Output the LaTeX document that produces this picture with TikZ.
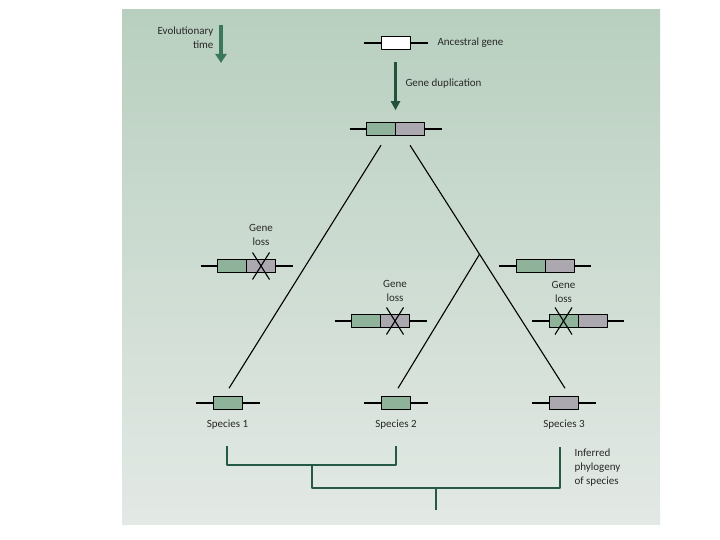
\documentclass[tikz,border=0pt]{standalone}
\usepackage{fontspec}
\setmainfont{Carlito}
\usetikzlibrary{positioning,arrows.meta,calc}
\definecolor{bgtop}{RGB}{184,207,191}
\definecolor{bgbot}{RGB}{227,233,229}
\definecolor{genegreen}{RGB}{143,178,155}
\definecolor{genegray}{RGB}{171,169,175}
\definecolor{arrowgreen}{RGB}{58,120,92}
\definecolor{treegreen}{RGB}{38,90,68}
\definecolor{txt}{RGB}{40,40,40}
% one gene: stub line and box halves
\newcommand{\genetwo}[5]{%
  \draw[stub] (#2-46,#3) -- (#2+46,#3);
  \node[half,fill=#4,anchor=east] (#1l) at (#2,#3) {};
  \node[half,fill=#5,anchor=west] (#1r) at (#2,#3) {};}
\newcommand{\geneone}[4]{%
  \draw[stub] (#2-32,#3) -- (#2+32,#3);
  \node[half,fill=#4] (#1) at (#2,#3) {};}
\newcommand{\lostmark}[1]{%
  \draw[stub] ([shift={(-8.5,-13.5)}]#1.center) -- ([shift={(8.5,13.5)}]#1.center);
  \draw[stub] ([shift={(8.5,-13.5)}]#1.center) -- ([shift={(-8.5,13.5)}]#1.center);}
\begin{document}
\begin{tikzpicture}[x=1pt,y=-1pt,line join=round,
    every node/.style={font=\fontsize{11}{14}\selectfont,text=txt},
    stub/.style={line width=1.1pt},
    half/.style={draw,line width=0.8pt,minimum width=29pt,minimum height=13.5pt,inner sep=0pt,outer sep=0pt},
    tree/.style={line width=1.1pt},
    bigarrow/.style={line width=3pt,-{Triangle[width=9pt,length=9pt]}},
    phylo/.style={draw=treegreen,line width=1.8pt}]
  \useasboundingbox (0,0) rectangle (720,540);
  \shade[top color=bgtop,bottom color=bgbot] (122,10) rectangle (660,524);

  % evolutionary time
  \coordinate (evtop) at (221,25);
  \coordinate (evbot) at (221,63);
  \draw[bigarrow,draw=arrowgreen,line width=4pt,-{Triangle[width=11pt,length=9pt]}] (evtop) -- (evbot);
  \node[align=right,anchor=east] (evlab) at (217,38) {Evolutionary\\time};

  % ancestral gene and duplication
  \geneone{anc}{395.5}{43}{white}
  \node[right=24pt of anc] (anclab) {Ancestral gene};
  \genetwo{dup}{395.5}{129}{genegreen}{genegray}
  \draw[bigarrow,draw=treegreen!90!black,shorten <=12.5pt,shorten >=12pt] (anc.south) -- (dupl.north east);
  \node[anchor=west] (duplab) at (402,84) {Gene duplication};

  % genes along the branches
  \genetwo{lossa}{246.5}{266}{genegreen}{genegray}
  \lostmark{lossar}
  \node[above=10.5pt of lossar,align=center] (lossalab) {Gene\\loss};
  \genetwo{lossb}{380.5}{321}{genegreen}{genegray}
  \lostmark{lossbr}
  \node[above=9pt of lossbr,align=center] (lossblab) {Gene\\loss};
  \genetwo{keep}{545}{266}{genegreen}{genegray}
  \genetwo{lossc}{578}{321}{genegreen}{genegray}
  \lostmark{losscl}
  \node[above=8pt of losscl,align=center] (lossclab) {Gene\\loss};

  % species
  \geneone{spa}{227.5}{403}{genegreen}
  \geneone{spb}{396}{403}{genegreen}
  \geneone{spc}{564}{403}{genegray}
  \node[below=7pt of spa] (spalab) {Species 1};
  \node[below=7pt of spb] (spblab) {Species 2};
  \node[below=7pt of spc] (spclab) {Species 3};

  % gene tree
  \coordinate (topl) at ($(dupl.south)+(0,9.5)$);
  \coordinate (topr) at ($(dupr.south)+(0,9.5)$);
  \coordinate (enda) at ($(spa.north)+(1.5,-8)$);
  \coordinate (endb) at ($(spb.north)+(2,-8)$);
  \coordinate (endc) at ($(spc.north)+(1,-8)$);
  \coordinate (fork) at ($(topr)!0.4486!(endc)$);
  \draw[tree] (topl) -- (enda);
  \draw[tree] (topr) -- (endc);
  \draw[tree] (fork) -- (endb);

  % inferred phylogeny
  \coordinate (tipa) at (227,446);
  \coordinate (tipb) at (396,446);
  \coordinate (tipc) at (560,447);
  \coordinate (joina) at (312,465);
  \coordinate (joinb) at (436,488);
  \coordinate (root) at (436,510);
  \draw[phylo] (tipa) |- (joina) -| (tipb);
  \draw[phylo] (joina) |- (joinb) -| (tipc);
  \draw[phylo] (joinb) -- (root);
  \node[anchor=north west,align=left] (phylolab) at (571,445) {Inferred\\phylogeny\\of species};
\end{tikzpicture}
\end{document}
